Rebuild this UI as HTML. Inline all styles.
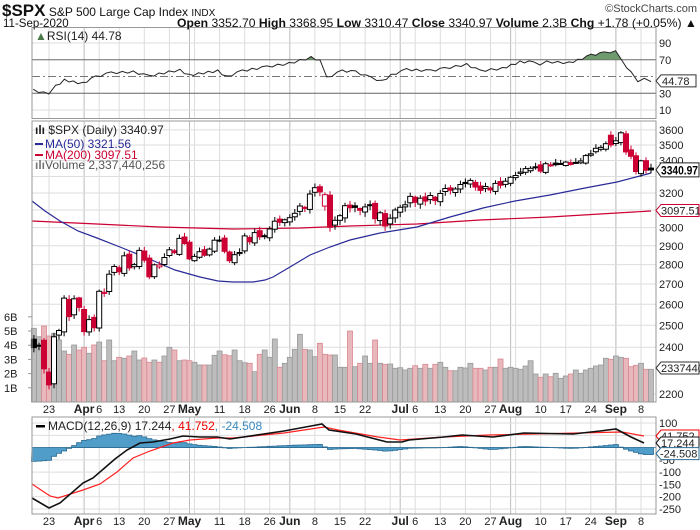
<!DOCTYPE html>
<html><head><meta charset="utf-8"><style>
body{margin:0;background:#fff;}
svg{display:block;font-family:"Liberation Sans",sans-serif;}
</style></head><body>
<svg id="c" width="700" height="530" viewBox="0 0 700 530" xmlns="http://www.w3.org/2000/svg"></svg>
<script>
const S=document.getElementById('c');let h='';
const C=[2398,2409,2305,2237,2447,2476,2630,2541,2627,2585,
2471,2527,2489,2664,2659,2750,2790,2762,2846,2783,2800,2875,2823,2737,2799,2798,2837,2878,2863,2940,2912,
2830,2843,2868,2849,2882,2930,2930,2870,2820,2852,2864,2954,2922,2972,2949,2955,2992,3036,3030,3044,
3056,3081,3123,3112,3194,3232,3207,3190,3002,3041,3067,3125,3113,3115,3098,3118,3131,3050,3084,3009,3053,3100,
3116,3130,3180,3145,3169,3152,3185,3155,3197,3227,3216,3224,3251,3257,3276,3236,3216,3239,3218,3258,3246,3271,
3295,3306,3327,3349,3351,3360,3333,3380,3373,3373,3381,3390,3375,3385,3397,3431,3443,3478,3484,3508,3500,
3527,3580,3455,3427,3331,3398,3339,3341];
const V=[625,650,618,648,640,660,693,703,675,690,682,700,675,666,722,660,722,712,715,708,693,720,714,727,720,727,708,682,690,722,720,722,727,735,735,735,706,693,704,707,690,722,728,730,755,703,690,712,657,742,730,712,688,643,688,690,710,670,703,705,705,742,
742,633,740,730,708,730,660,730,733,732,745,743,750,745,737,745,733,745,733,727,742,752,752,742,744,730,745,745,750,742,742,717,745,742,745,748,738,722,762,772,762,770,760,775,768,762,750,760,750,745,738,735,715,718,708,712,715,740,736,730,748,748];
const X=i=>49+(i-3)*5.017;
const PY=p=>4519-536*Math.log(p);
const L=(x1,y1,x2,y2,s,w,d)=>`<line x1="${x1}" y1="${y1}" x2="${x2}" y2="${y2}" stroke="${s}" stroke-width="${w||1}"${d?` stroke-dasharray="${d}"`:''}/>`;
const T=(x,y,t,o)=>`<text x="${x}" y="${y}" ${o||''}>${t}</text>`;
const weeks=[3,13,17,22,27,32,37,42,47,56,61,66,71,76,81,86,91,96,101,106,111,116,121];
const months=[10,31,51,73,95,116];
const gl=(i,dark)=>{const x=X(i).toFixed(1),c=dark?'#bbb':'#ddd';h+=L(x,28,x,118,c)+L(x,121,x,402,c)+L(x,417,x,514,c);};
weeks.forEach(i=>gl(i,false));months.forEach(i=>gl(i,true));
const RY=v=>118.4-0.8375*v;
[90,10].forEach(v=>h+=L(32,RY(v),656,RY(v),'#ddd'));
h+=L(32,RY(70),656,RY(70),'#666')+L(32,RY(30),656,RY(30),'#666')+L(32,RY(50),656,RY(50),'#777',1,'8,3,2,3');
const rz=[[75,270],[110,282],[125,258],[145,240],[185,250],[215,230],[250,218],[300,215],[335,228],[380,215],[405,210],[425,225],[490,212],[510,230],[545,212],[600,200],[650,190],[700,172],[720,180],[735,233],[770,212],[800,215],[835,233],[860,243],[880,225],[915,208],[970,212],[1000,205],[1050,193],[1080,212],[1130,205],[1170,185],[1200,185],[1215,195],[1230,185],[1280,188],[1300,180],[1330,165],[1360,158],[1385,152],[1400,185],[1420,215],[1435,245],[1450,235],[1465,245]];
const rp=rz.map(p=>[p[0]/2.25,p[1]/3]);
let rpts=[];for(let k=0;k<rp.length-1;k++){const a=rp[k],b=rp[k+1];const n=Math.max(1,Math.round((b[0]-a[0])/5));for(let j=0;j<n;j++){const t=j/n;rpts.push([a[0]+(b[0]-a[0])*t,a[1]+(b[1]-a[1])*t+(j%2?1.2:-0.8)*(n>1?1:0)]);}}rpts.push(rp[rp.length-1]);
const rs=rpts.map(p=>p[0].toFixed(1)+','+p[1].toFixed(1)).join(' ');
h+=`<clipPath id="ca"><rect x="32" y="28" width="624" height="${RY(70)-28}"/></clipPath>`;
h+=`<polygon points="${rs} ${rpts[rpts.length-1][0]},${RY(70)} ${rpts[0][0]},${RY(70)}" fill="#6e9a6e" clip-path="url(#ca)"/>`;
h+=`<polyline points="${rs}" fill="none" stroke="#222" stroke-width="1"/>`;
h+=`<rect x="32" y="27.5" width="624" height="91" fill="none" stroke="#999"/>`;
h+=`<text x="35" y="40" font-size="12" fill="#222"><tspan fill="#4a7a4a" font-weight="bold">&#9650;</tspan>RSI(14) 44.78</text>`;
[[90,'90'],[70,'70'],[30,'30'],[10,'10']].forEach(a=>h+=T(659,RY(a[0])+4,a[1],'font-size="11" fill="#222"'));
h+=`<path d="M656,${RY(44.78)} l5,-6 h35 v12 h-35 z" fill="#fff" stroke="#333"/>`+T(662,RY(44.78)+4,'44.78','font-size="11" fill="#222"');
[2200,2400,2500,2600,2700,2800,2900,3000,3100,3200,3300,3400,3500,3600].forEach(p=>{h+=L(32,PY(p),656,PY(p),'#ddd');});
[3600,3500,3400,3200,3000,2900,2800,2700,2600,2500,2400,2200].forEach(p=>h+=T(659,PY(p)+4,p,'font-size="11" fill="#222"'));
const VY=zy=>120+zy/3;
[6,5,4,3,2,1].forEach((b,k)=>{const y=402-b*14.2;h+=L(28,y,32,y,'#999');h+=T(4,y+4,b+'B','font-size="11" fill="#222"');});
for(let i=0;i<C.length;i++){const x=X(i)-2.5;const y=VY(V[i]);const dn=i>0&&C[i]<C[i-1];h+=`<rect x="${x.toFixed(1)}" y="${y.toFixed(1)}" width="5" height="${(402-y).toFixed(1)}" fill="${dn?'#e9b8bd':'#bdbdbd'}" stroke="${dn?'#d88890':'#9a9a9a'}" stroke-width="0.8"/>`;}
const ma50=[[32,201],[45,211],[60,221],[78,231],[97,238],[120,247],[147,258],[175,270],[200,277],[218,281],[233,282],[253,282],[265,280],[273,277],[290,267],[310,255],[330,247],[350,240],[380,233],[417,227],[450,217],[483,208],[515,201],[550,195],[585,188],[617,182],[640,176],[651,173]];
const ma200=[[32,221],[97,224],[160,227],[233,229],[300,228],[350,226],[417,224],[480,220],[550,217],[600,214],[651,211]];
const pl=(a,c)=>`<polyline points="${a.map(p=>p.join(',')).join(' ')}" fill="none" stroke="${c}" stroke-width="1.2"/>`;
h+=pl(ma200,'#cc0033')+pl(ma50,'#2a2a98');
function sn(i,k){return Math.abs(Math.sin(i*k+1.3));}
for(let i=0;i<C.length;i++){const c=C[i],pc=i?C[i-1]:2436;let o=pc*(1+0.004*Math.sin(i*1.7));
 if(i==0)o=2436; if(i==2)o=2431; if(i==3)o=2291; if(i==115)o=3564; if(i==58)o=3123;
 const hi=Math.max(o,c)*(1+0.002+0.006*sn(i,2.3)),lo=Math.min(o,c)*(1-0.002-0.007*sn(i,3.1));
 const dn=i>0&&c<pc,col=dn?'#cc0033':'#000';const x=X(i);
 const yt=PY(Math.max(o,c)),yb=PY(Math.min(o,c));
 h+=L(x.toFixed(1),PY(hi).toFixed(1),x.toFixed(1),PY(lo).toFixed(1),col,1);
 const bh=Math.max(1,yb-yt);
 if(c>o)h+=`<rect x="${(x-2.5).toFixed(1)}" y="${yt.toFixed(1)}" width="5" height="${bh.toFixed(1)}" fill="#fff" stroke="${col}" stroke-width="1"/>`;
 else h+=`<rect x="${(x-2.5).toFixed(1)}" y="${yt.toFixed(1)}" width="5" height="${bh.toFixed(1)}" fill="${col}" stroke="${col}" stroke-width="1"/>`;}
h+=`<rect x="32" y="121" width="624" height="281" fill="none" stroke="#999"/>`;
h+=T(35,134,'<tspan font-weight="bold">ılı</tspan> $SPX (Daily) 3340.97','font-size="12" fill="#222"');
h+=`<rect x="35" y="143" width="8" height="2" fill="#2a2a98"/>`+T(45,148,'MA(50) 3321.56','font-size="12" fill="#2a2a98"');
h+=`<rect x="35" y="154" width="8" height="2" fill="#cc0033"/>`+T(45,159,'MA(200) 3097.51','font-size="12" fill="#cc0033"');
h+=T(35,169,'<tspan fill="#777" font-weight="bold">ılı</tspan>Volume 2,337,440,256','font-size="12" fill="#555"');
h+=`<path d="M656,${PY(3341)} l5,-7 h38 v14 h-38 z" fill="#fff" stroke="#222"/>`+T(661,PY(3341)+4.5,'3340.97','font-size="11.5" font-weight="bold" fill="#000" textLength="37" lengthAdjust="spacingAndGlyphs"');
h+=`<path d="M656,${PY(3097.5)} l5,-6 h38 v12 h-38 z" fill="#fff" stroke="#cc0033"/>`+T(661,PY(3097.5)+4,'3097.51','font-size="11" fill="#222"');
h+=`<path d="M656,368 l5,-6 h38 v12 h-38 z" fill="#fff" stroke="#333"/>`+T(661,372,'2337440','font-size="11" fill="#222"');
function dl(y){const lab=[[3,'23'],[13,'6'],[17,'13'],[22,'20'],[27,'27'],[37,'11'],[42,'18'],[47,'26'],[56,'8'],[61,'15'],[66,'22'],[76,'6'],[81,'13'],[86,'20'],[91,'27'],[101,'10'],[106,'17'],[111,'24'],[121,'8']];
 lab.forEach(a=>h+=T(X(a[0]).toFixed(1),y,a[1],'font-size="11" fill="#222" text-anchor="middle"'));
 [[10,'Apr'],[31,'May'],[51,'Jun'],[73,'Jul'],[95,'Aug'],[116,'Sep']].forEach(a=>h+=T(X(a[0]).toFixed(1),y,a[1],'font-size="12" font-weight="bold" fill="#222" text-anchor="middle"'));}
dl(413);dl(525);
const MY=v=>447.6-0.2457*v;
[100,50,-50,-100,-150,-200,-250].forEach(v=>h+=L(32,MY(v),656,MY(v),'#ddd'));
const mk=[[32,498],[49,508],[60,503],[83,483],[93,478],[115,459],[127,450],[140,443],[153,442],[170,439],[183,436],[200,437],[217,437],[230,439],[284,431],[311,426],[322,424],[329,430],[356,434],[387,442],[402,442],[409,440],[444,437],[462,435],[493,437],[524,433],[573,434],[600,431],[616,429],[631,437],[644,443]];
const sg=[[32,484],[50,496],[58,498],[83,490],[100,484],[117,472],[133,458],[150,451],[173,443],[190,440],[217,438],[233,438],[284,433],[324,427],[338,430],[378,437],[400,440],[444,437],[489,435],[578,433],[622,432],[644,436]];
const ip=(a,x)=>{if(x<=a[0][0])return a[0][1];for(let k=0;k<a.length-1;k++){if(x<=a[k+1][0]){const t=(x-a[k][0])/(a[k+1][0]-a[k][0]);return a[k][1]+t*(a[k+1][1]-a[k][1]);}}return a[a.length-1][1];};
let hp='M32,447.6';
for(let i=0;i<C.length;i++){const x=X(i);const v=ip(sg,x)-ip(mk,x);const y=447.6-v;hp+=` L${(x-2.5).toFixed(1)},${y.toFixed(1)} L${(x+2.5).toFixed(1)},${y.toFixed(1)}`;}
hp+=` L${(X(C.length-1)+2.5).toFixed(1)},447.6 Z`;
h+=`<path d="${hp}" fill="#4f9dc8" stroke="#2a6a92" stroke-width="0.8"/>`;
h+=L(32,447.6,656,447.6,'#2a6a92',0.8);
h+=pl(sg,'#ff2020')+`<polyline points="${mk.map(p=>p.join(',')).join(' ')}" fill="none" stroke="#111" stroke-width="1.6"/>`;
h+=`<rect x="32" y="417" width="624" height="97" fill="none" stroke="#999"/>`;
h+=`<rect x="36" y="425" width="9" height="2.5" fill="#000"/>`+`<text x="48" y="430" font-size="12" fill="#222">MACD(12,26,9) 17.244<tspan fill="#e00">, 41.752</tspan><tspan fill="#3a8ac0">, -24.508</tspan></text>`;
[[100,'100'],[-100,'-100'],[-150,'-150'],[-200,'-200'],[-250,'-250']].forEach(a=>h+=T(659,MY(a[0])+4,a[1],'font-size="11" fill="#222"'));
h+=T(659,MY(-50)+4,'-50','font-size="11" fill="#222"');
h+=`<path d="M656,436 l5,-6 h38 v12 h-38 z" fill="#fff" stroke="#e00"/>`+T(661,440,'41.752','font-size="11" fill="#222"');
h+=`<path d="M656,443 l5,-6 h38 v12 h-38 z" fill="#fff" stroke="#111"/>`+T(661,447,'17.244','font-size="11" fill="#222"');
h+=`<path d="M656,453.6 l5,-6 h38 v12 h-38 z" fill="#fff" stroke="#2a6a92"/>`+T(660,457.6,'-24.508','font-size="11" fill="#222"');
h+=`<text x="2" y="16" font-size="12" fill="#111"><tspan font-size="17" font-weight="bold">$SPX</tspan> S&amp;P 500 Large Cap Index <tspan font-size="10">INDX</tspan></text>`;
h+=T(697,12,'©StockCharts.com','font-size="11" fill="#444" text-anchor="end"');
h+=T(3,27,'11-Sep-2020','font-size="11.5" fill="#111"');
h+=`<text x="697" y="27" font-size="12" fill="#111" text-anchor="end" textLength="520" lengthAdjust="spacingAndGlyphs"><tspan font-weight="bold">Open</tspan> 3352.70 <tspan font-weight="bold">High</tspan> 3368.95 <tspan font-weight="bold">Low</tspan> 3310.47 <tspan font-weight="bold">Close</tspan> 3340.97 <tspan font-weight="bold">Volume</tspan> 2.3B <tspan font-weight="bold">Chg</tspan> +1.78 (+0.05%) &#9650;</text>`;
S.innerHTML=h;
</script>
</body></html>
